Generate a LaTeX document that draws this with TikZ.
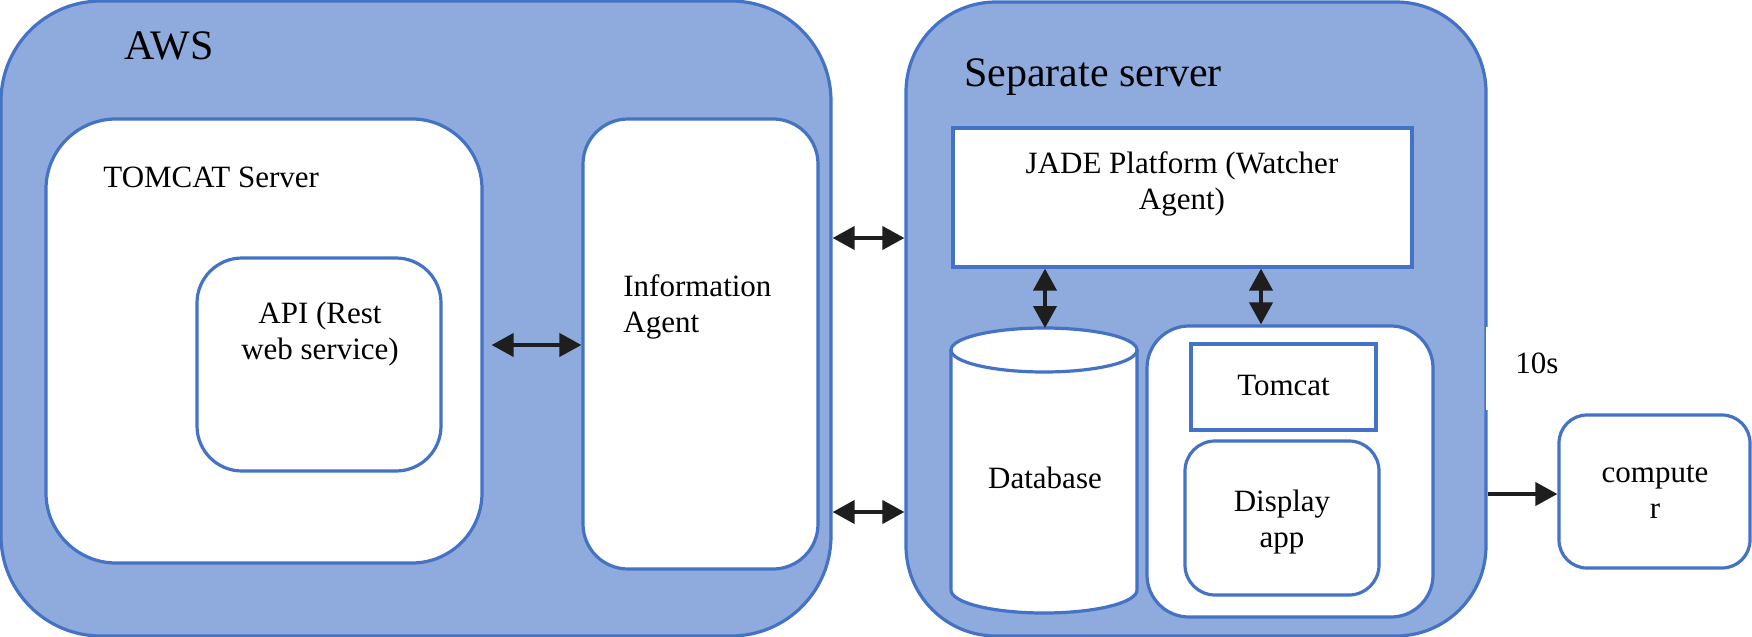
\documentclass[tikz,border=0pt]{standalone}
\usepackage{fontspec}
\setmainfont{Liberation Serif}
\usetikzlibrary{arrows.meta}
\definecolor{fillblue}{HTML}{8FAADC}
\definecolor{lineblue}{HTML}{4472C4}
\definecolor{arrowblack}{HTML}{1E1E1E}
\begin{document}
\begin{tikzpicture}[x=0.5pt,y=-0.5pt,
  outerbox/.style={rectangle, draw=lineblue, fill=fillblue, line width=1.6pt, inner sep=0pt},
  whitebox/.style={rectangle, draw=lineblue, fill=white, line width=1.6pt, inner sep=0pt},
  lbl/.style={font=\fontsize{15.5}{18}\selectfont, inner sep=0pt, anchor=base},
  titlelbl/.style={font=\fontsize{21}{25}\selectfont, inner sep=0pt, anchor=base},
  biarrow/.style={{Triangle[length=11pt,width=11.5pt]}-{Triangle[length=11pt,width=11.5pt]}, line width=2pt, draw=arrowblack, fill=arrowblack},
  onearrow/.style={-{Triangle[length=11pt,width=11.5pt]}, line width=2pt, draw=arrowblack, fill=arrowblack}
]
\useasboundingbox (0,0) rectangle (1752,637);

% ---------------- AWS ----------------
\node[outerbox, rounded corners=50pt, minimum width=415pt, minimum height=317.5pt] (aws) at (416,318.5) {};
\node[titlelbl] (awslbl) at (169,59) {AWS};

\node[whitebox, rounded corners=35pt, minimum width=218pt, minimum height=222pt] (tomcatsrv) at (264,341) {};
\node[lbl, anchor=base west] (tomcatlbl) at (103,187) {TOMCAT Server};

\node[whitebox, rounded corners=22.5pt, minimum width=122pt, minimum height=106.5pt] (api) at (319,364.5) {};
\node[lbl, align=center] (apilbl) at (320,359) {API (Rest\\web service)};

\node[whitebox, rounded corners=22.5pt, minimum width=117.5pt, minimum height=225pt] (info) at (700.5,344) {};
\node[lbl, align=left, anchor=base west] (infolbl) at (623,332) {Information\\Agent};

% ---------------- Separate server ----------------
\node[outerbox, rounded corners=45pt, minimum width=290pt, minimum height=317pt] (sep) at (1196,319) {};
\node[titlelbl] (seplbl) at (1093,86) {Separate server};

\node[whitebox, minimum width=229.5pt, minimum height=69.5pt] (jade) at (1182.5,197.5) {};
\node[lbl, align=center] (jadelbl) at (1182,209) {JADE Platform (Watcher\\Agent)};

% database cylinder
\path[draw=lineblue, fill=white, line width=1.6pt]
  (951,350) -- (951,590)
  arc[start angle=180, end angle=360, x radius=46.5pt, y radius=11.5pt]
  -- (1137,350)
  arc[start angle=0, end angle=180, x radius=46.5pt, y radius=11pt] -- cycle;
\draw[lineblue, line width=1.6pt] (951,350) arc[start angle=180, end angle=360, x radius=46.5pt, y radius=11pt];
\coordinate (dbtop) at (1045,328);
\node[lbl] (db) at (1045,488) {Database};

\node[whitebox, rounded corners=21pt, minimum width=143pt, minimum height=145.5pt] (tcbox) at (1290,471.5) {};
\node[whitebox, minimum width=92.5pt, minimum height=43pt] (tomcat) at (1283.5,387) {};
\node[lbl] (tomcatlbl2) at (1283.5,395) {Tomcat};
\node[whitebox, rounded corners=15pt, minimum width=97pt, minimum height=77pt] (disp) at (1282,518) {};
\node[lbl, align=center] (displbl) at (1282,547) {Display\\app};

% white gap in the border behind the label
\fill[white] (1485.5,327) rectangle (1600,410);
\node[lbl] (tens) at (1537,373) {10s};

% ---------------- computer ----------------
\node[whitebox, rounded corners=14pt, minimum width=95.5pt, minimum height=76.5pt] (comp) at (1654.5,491.5) {};
\node[lbl, align=center] (complbl) at (1655,518) {compute\\r};

% ---------------- arrows ----------------
\draw[biarrow, shorten <=4pt] (tomcatsrv.east |- 0,345) -- (info.west |- 0,345);
\draw[biarrow] (aws.east |- 0,238) -- (sep.west |- 0,238);
\draw[biarrow] (aws.east |- 0,512) -- (sep.west |- 0,512);
\draw[biarrow] (jade.south -| dbtop) -- (dbtop);
\draw[biarrow] (jade.south -| 1261,0) -- (tcbox.north -| 1261,0);
\draw[onearrow] (sep.east |- 0,494) -- (comp.west |- 0,494);
\end{tikzpicture}
\end{document}
